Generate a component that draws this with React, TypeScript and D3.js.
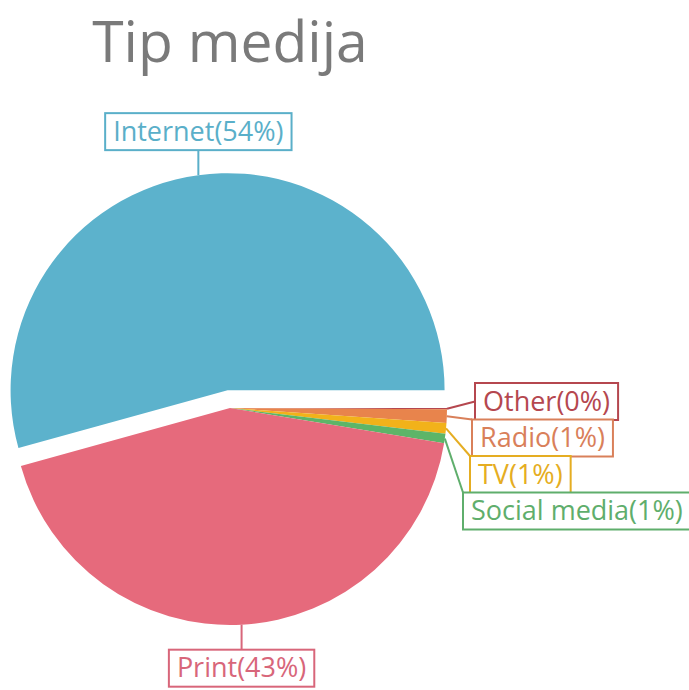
import React, { useEffect, useRef } from "react";
import * as d3 from "d3";

const categories = ["Other", "Radio", "TV", "Social media", "Print", "Internet"];
const values = [0.1, 1.0, 0.8, 0.7, 43.1, 54.3];
const percentLabels = ["0%", "1%", "1%", "1%", "43%", "54%"];
const sliceColors = ["#b5474f", "#e8844c", "#f2b21a", "#5db568", "#e66a7c", "#5cb2cc"];
const labelColors = ["#b5474f", "#d9805a", "#e5ad22", "#5fae6c", "#d8667a", "#5aafc9"];
const explodedCategory = "Internet";
const chartTitle = "Tip medija";

const W = 689;
const H = 690;
const FONT = "'Open Sans', 'Noto Sans', sans-serif";

export default function App() {
  const ref = useRef<SVGSVGElement | null>(null);

  useEffect(() => {
    const svg = d3.select(ref.current);
    svg.selectAll("*").remove();

    const cx = 230;
    const cy = 408;
    const R = 217;
    const explode = 18;
    const fontSize = 27;
    const boxH = 37;
    const padX = 8;

    const data = categories.map((c, i) => ({ cat: c, value: values[i], pct: percentLabels[i], i }));

    const pie = d3
      .pie<any>()
      .sort(null)
      .value((d: any) => d.value)
      .startAngle(Math.PI / 2)
      .endAngle(Math.PI / 2 + 2 * Math.PI);
    const arcs = pie(data);
    const arc = d3.arc<any>().innerRadius(0).outerRadius(R);

    svg
      .append("text")
      .attr("x", cx)
      .attr("y", 62)
      .attr("text-anchor", "middle")
      .attr("font-family", FONT)
      .attr("font-size", 57)
      .attr("fill", "#7a7a7a")
      .text(chartTitle);

    const g = svg.append("g").attr("transform", `translate(${cx},${cy})`);

    const offsetOf = (a: any) => {
      if (a.data.cat !== explodedCategory) return [0, 0];
      const m = (a.startAngle + a.endAngle) / 2;
      return [Math.sin(m) * explode, -Math.cos(m) * explode];
    };

    arcs.forEach((a: any) => {
      const [ox, oy] = offsetOf(a);
      g.append("path")
        .attr("d", arc(a) as string)
        .attr("transform", `translate(${ox},${oy})`)
        .attr("fill", sliceColors[a.data.i]);
    });

    const drawBox = (x: number, y: number, i: number, text: string) => {
      const t = svg
        .append("text")
        .attr("x", x + padX)
        .attr("y", y + 27.5)
        .attr("font-family", FONT)
        .attr("font-size", fontSize)
        .attr("fill", labelColors[i])
        .text(text);
      const w = (t.node() as SVGTextElement).getComputedTextLength();
      svg
        .insert("rect", "text")
        .attr("x", x)
        .attr("y", y)
        .attr("width", w + 2 * padX)
        .attr("height", boxH)
        .attr("fill", "white")
        .attr("stroke", labelColors[i])
        .attr("stroke-width", 2);
      return w + 2 * padX;
    };

    const measure = (text: string) => {
      const t = svg
        .append("text")
        .attr("font-family", FONT)
        .attr("font-size", fontSize)
        .text(text);
      const w = (t.node() as SVGTextElement).getComputedTextLength();
      t.remove();
      return w + 2 * padX;
    };

    const lineLayer = svg.append("g");

    const rightIndent = [28, 25, 23, 16];
    const rightTop0 = 383;
    const rightStep = 36.5;
    let k = 0;
    arcs.forEach((a: any) => {
      const i = a.data.i;
      const label = `${a.data.cat}(${a.data.pct})`;
      const m = (a.startAngle + a.endAngle) / 2;
      const [ox, oy] = offsetOf(a);
      const px = cx + ox + Math.sin(m) * R;
      const py = cy + oy - Math.cos(m) * R;
      if (a.data.cat === "Internet" || a.data.cat === "Print") {
        const up = a.data.cat === "Internet";
        const w = measure(label);
        const lineLen = 25;
        const by = up ? py - lineLen - boxH : py + lineLen;
        lineLayer
          .append("line")
          .attr("x1", px)
          .attr("y1", py)
          .attr("x2", px)
          .attr("y2", up ? py - lineLen : py + lineLen)
          .attr("stroke", labelColors[i])
          .attr("stroke-width", 2);
        drawBox(px - w / 2, by, i, label);
      } else {
        const bx = cx + R + rightIndent[k];
        const by = rightTop0 + k * rightStep;
        const mid = by + boxH / 2;
        const ey = Math.max(by, Math.min(mid, py));
        lineLayer
          .append("line")
          .attr("x1", px)
          .attr("y1", py)
          .attr("x2", bx)
          .attr("y2", ey)
          .attr("stroke", labelColors[i])
          .attr("stroke-width", 2);
        drawBox(bx, by, i, label);
        k++;
      }
    });
  }, []);

  return (
    <div style={{ position: "absolute", left: 0, top: 0 }}>
      <svg ref={ref} width={W} height={H} style={{ display: "block", background: "white" }} />
    </div>
  );
}
